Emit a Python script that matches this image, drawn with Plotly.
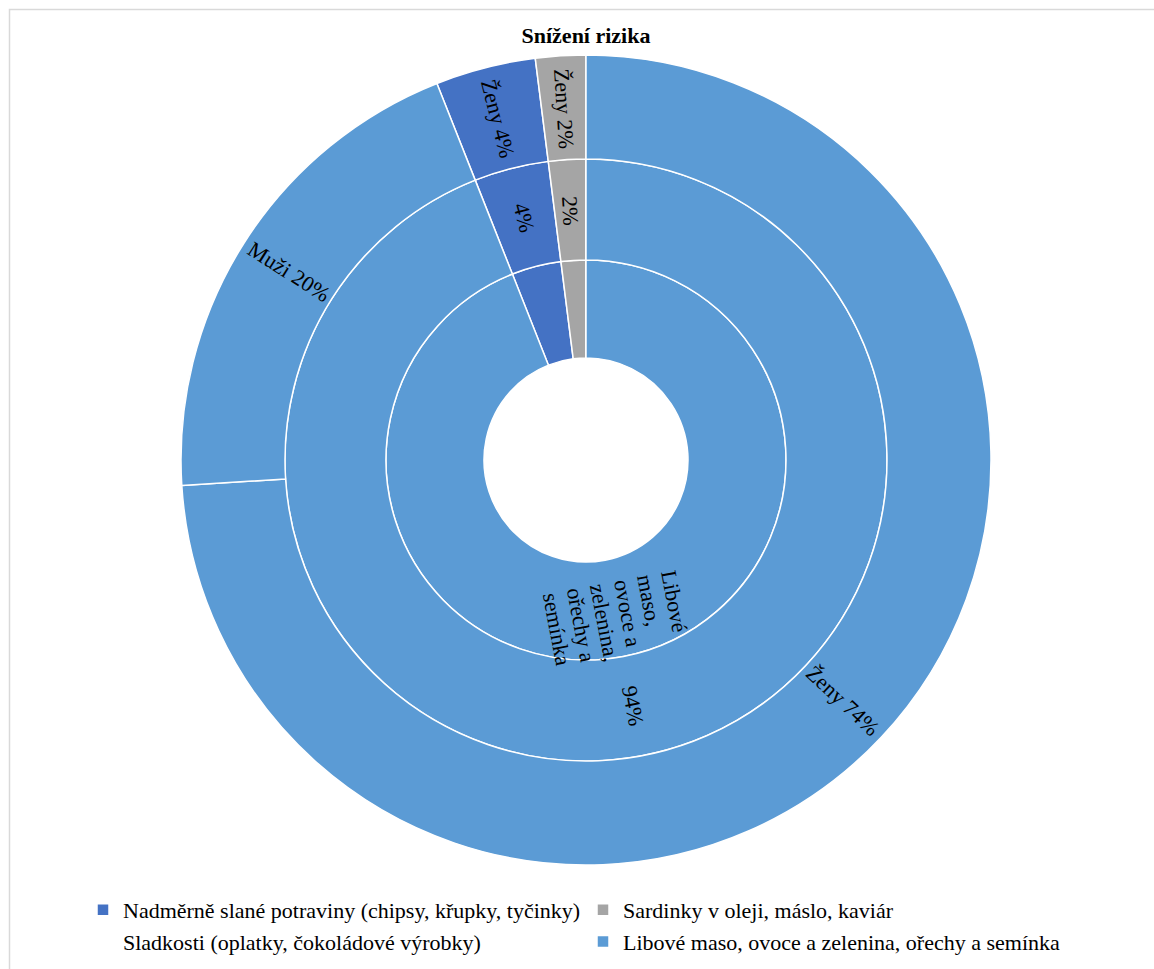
import math
import plotly.graph_objects as go

W, H = 1154, 969

# ---- data ----
categories = [
    "Nadměrně slané potraviny (chipsy, křupky, tyčinky)",
    "Sardinky v oleji, máslo, kaviár",
    "Sladkosti (oplatky, čokoládové výrobky)",
    "Libové maso, ovoce a zelenina, ořechy a semínka",
]
category_values = [4, 2, 0, 94]
category_text = ["", "", "", "Libové<br>maso,<br>ovoce a<br>zelenina,<br>ořechy a<br>semínka"]
middle_text = ["4%", "2%", "", "94%"]

outer_labels = ["Ženy (slané)", "Ženy (sardinky)", "Ženy (libové)", "Muži (libové)"]
outer_values = [4, 2, 74, 20]
outer_text = ["Ženy 4%", "Ženy 2%", "Ženy 74%", "Muži 20%"]

# ---- styling ----
DARK = "#4472C4"
GRAY = "#A5A5A5"
LIGHT = "#5B9BD5"
cat_colors = [DARK, GRAY, "rgba(0,0,0,0)", LIGHT]
outer_colors = [DARK, GRAY, LIGHT, LIGHT]
FONT = "Liberation Serif"

cx, cy = 586, 460
R_OUT, R_MID, R_IN, R_HOLE = 405, 301, 200, 102
START = -360 * (category_values[0] + category_values[1]) / sum(category_values)


def dom(r):
    return dict(x=[(cx - r) / W, (cx + r) / W], y=[1 - (cy + r) / H, 1 - (cy - r) / H])


common = dict(
    sort=False, direction="clockwise", rotation=START,
    textinfo="none", hoverinfo="skip",
)

fig = go.Figure()
fig.add_trace(go.Pie(
    labels=categories, values=category_values,
    domain=dom(R_IN), hole=R_HOLE / R_IN,
    marker=dict(colors=cat_colors, line=dict(color="white", width=1.5)),
    showlegend=True, **common))
fig.add_trace(go.Pie(
    labels=["m1", "m2", "m3", "m4"], values=category_values,
    domain=dom(R_MID), hole=R_IN / R_MID,
    marker=dict(colors=cat_colors, line=dict(color="white", width=1.5)),
    showlegend=False, **common))
fig.add_trace(go.Pie(
    labels=outer_labels, values=outer_values,
    domain=dom(R_OUT), hole=R_MID / R_OUT,
    marker=dict(colors=outer_colors, line=dict(color="white", width=1.5)),
    showlegend=False, **common))


def radial_labels(values, texts, r, size, pitch, box=None):
    """Place labels at the middle angle of each slice, rotated along the radius."""
    anns = []
    total = sum(values)
    a0 = START
    for v, t in zip(values, texts):
        span = 360 * v / total
        mid = a0 + span / 2
        a0 += span
        if not t:
            continue
        th = math.radians(mid)
        x = cx + r * math.sin(th)
        y = cy - r * math.cos(th)
        ang = (mid - 90) % 360
        if 90 < ang <= 270:
            ang -= 180
        if ang > 180:
            ang -= 360
        lines = t.split("<br>")
        n = len(lines)
        a = math.radians(ang)
        dx, dy = -math.sin(a), math.cos(a)  # "next line" direction on screen
        for i, line in enumerate(lines):
            off = (i - (n - 1) / 2) * pitch
            lx, ly = x + dx * off, y + dy * off
            ann = dict(x=lx / W, y=1 - ly / H, xref="paper", yref="paper",
                       text=line, textangle=ang, showarrow=False,
                       xanchor="center", yanchor="middle",
                       font=dict(family=FONT, size=size, color="black"))
            if box:
                ann.update(width=box, align="left")
            anns.append(ann)
    return anns


annotations = []
annotations += radial_labels(outer_values, outer_text, 352, 22, 24)
annotations += radial_labels(category_values, middle_text, 250, 22, 24)
annotations += radial_labels(category_values, category_text, 170, 22, 24, box=92)

fig.update_layout(
    width=W, height=H,
    margin=dict(l=0, r=0, t=0, b=0),
    paper_bgcolor="white",
    font=dict(family=FONT, color="black"),
    title=dict(text="<b>Snížení rizika</b>", x=cx / W, xanchor="center",
               y=1 - 35 / H, yanchor="middle",
               font=dict(family=FONT, size=22, color="black")),
    legend=dict(orientation="h", x=83 / W, xanchor="left",
                y=1 - 889 / H, yanchor="top",
                entrywidth=455, entrywidthmode="pixels",
                itemwidth=30, traceorder="normal",
                font=dict(family=FONT, size=22, color="black"),
                bgcolor="rgba(0,0,0,0)"),
    annotations=annotations,
    shapes=[dict(type="rect", xref="paper", yref="paper",
                 x0=9.5 / W, x1=1.01, y0=-0.01, y1=1 - 9.5 / H,
                 line=dict(color="#D9D9D9", width=1.5), fillcolor="rgba(0,0,0,0)")],
)

fig.write_html("out.html")
